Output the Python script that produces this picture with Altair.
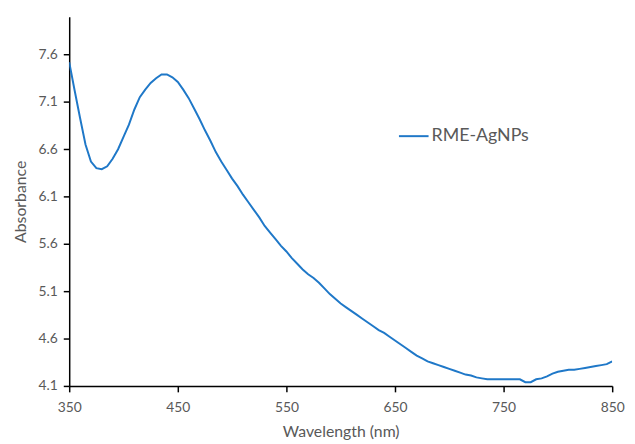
import altair as alt
import pandas as pd

wavelength = [350, 355, 360, 365, 370, 375, 380, 385, 390, 395, 400, 405, 410, 415, 420, 425,
              430, 435, 440, 445, 450, 455, 460, 465, 470, 475, 480, 485, 490, 495, 500, 505,
              510, 515, 520, 525, 530, 535, 540, 545, 550, 555, 560, 565, 570, 575, 580, 585,
              590, 595, 600, 605, 610, 615, 620, 625, 630, 635, 640, 645, 650, 655, 660, 665,
              670, 675, 680, 685, 690, 695, 700, 705, 710, 715, 720, 725, 730, 735, 740, 745,
              750, 755, 760, 765, 770, 775, 780, 785, 790, 795, 800, 805, 810, 815, 820, 825,
              830, 835, 840, 845, 850]
absorbance = [7.52, 7.22, 6.93, 6.65, 6.47, 6.40, 6.39, 6.42, 6.50, 6.60, 6.73, 6.86, 7.02, 7.15,
              7.23, 7.30, 7.35, 7.39, 7.39, 7.36, 7.31, 7.23, 7.14, 7.03, 6.92, 6.80, 6.69, 6.57,
              6.47, 6.38, 6.29, 6.21, 6.12, 6.04, 5.96, 5.88, 5.79, 5.72, 5.65, 5.58, 5.52, 5.45,
              5.39, 5.33, 5.28, 5.24, 5.19, 5.13, 5.07, 5.02, 4.97, 4.93, 4.89, 4.85, 4.81, 4.77,
              4.73, 4.69, 4.66, 4.62, 4.58, 4.54, 4.50, 4.46, 4.42, 4.39, 4.36, 4.34, 4.32, 4.30,
              4.28, 4.26, 4.24, 4.22, 4.21, 4.19, 4.18, 4.17, 4.17, 4.17, 4.17, 4.17, 4.17, 4.17,
              4.14, 4.14, 4.17, 4.18, 4.20, 4.23, 4.25, 4.26, 4.27, 4.27, 4.28, 4.29, 4.30, 4.31,
              4.32, 4.33, 4.36]
series_name = "RME-AgNPs"
x_ticks = [350, 450, 550, 650, 750, 850]
y_ticks = [4.1, 4.6, 5.1, 5.6, 6.1, 6.6, 7.1, 7.6]

df = pd.DataFrame({"wavelength": wavelength, "absorbance": absorbance,
                   "series": [series_name] * len(wavelength)})

FONT = "Lato"
GRAY = "#595959"

chart = alt.Chart(df).mark_line(strokeWidth=2, clip=True).encode(
    x=alt.X("wavelength:Q",
            scale=alt.Scale(domain=[350, 850], nice=False, zero=False),
            axis=alt.Axis(values=x_ticks, title="Wavelength (nm)", grid=False,
                          labelPadding=9, titlePadding=9, format="d", labelFlush=False)),
    y=alt.Y("absorbance:Q",
            scale=alt.Scale(domain=[4.1, 8.0], nice=False, zero=False),
            axis=alt.Axis(values=y_ticks, title="Absorbance", grid=False,
                          format=".1f", labelPadding=6, titlePadding=10, labelFlush=False)),
    color=alt.Color("series:N", scale=alt.Scale(range=["#1f78c8"]),
                    legend=alt.Legend(title=None, orient="none", legendX=333, legendY=105,
                                      symbolType="stroke", symbolSize=900,
                                      symbolStrokeWidth=2, labelFontSize=18,
                                      labelColor=GRAY, labelFont=FONT, labelOffset=2)),
).properties(
    width=550, height=374,
    autosize=alt.AutoSizeParams(type="none"),
    padding={"left": 62, "top": 6, "right": 15, "bottom": 56},
).configure_axis(
    domainColor="black", domainWidth=1.5, tickColor="black", tickWidth=1.5, tickSize=6,
    labelColor=GRAY, labelFont=FONT, labelFontSize=14,
    titleColor=GRAY, titleFont=FONT, titleFontSize=16, titleFontWeight="normal",
).configure_view(stroke=None)

chart.save("out.html", embed_options={"renderer": "svg", "actions": False})
